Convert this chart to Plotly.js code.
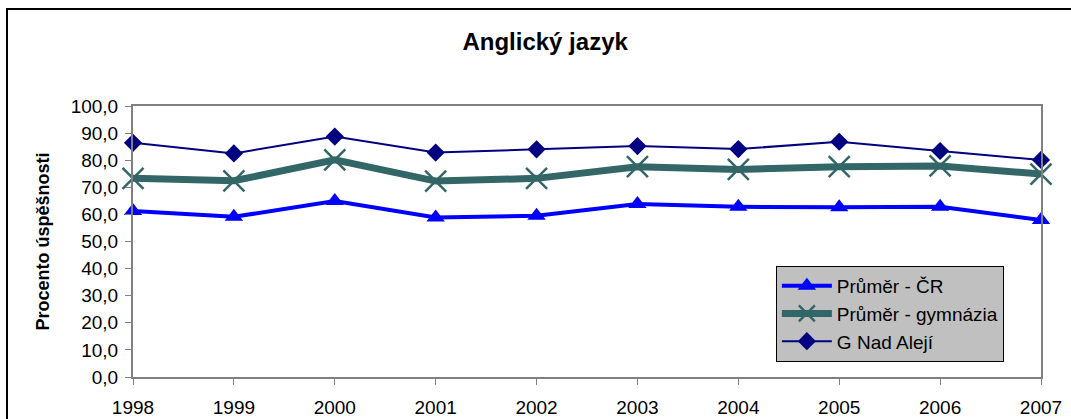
<!DOCTYPE html>
<html><head><meta charset="utf-8">
<script src="https://cdn.plot.ly/plotly-3.0.1.min.js"></script>
<style>
html,body{margin:0;padding:0;background:#fff;overflow:hidden;}
#chart{width:1071px;height:419px;}
#frame{position:absolute;left:6px;top:8px;width:1100px;height:500px;border:2px solid #000;pointer-events:none;}
</style></head>
<body>
<div id="chart"></div>
<div id="frame"></div>
<script>
const years = [1998,1999,2000,2001,2002,2003,2004,2005,2006,2007];
const prumerCR = [61.3,59.1,64.9,58.9,59.5,63.8,62.8,62.6,62.8,57.9];
const prumerGym = [73.3,72.4,80.1,72.3,73.3,77.6,76.6,77.6,77.9,74.9];
const nadAleji = [86.4,82.5,88.7,82.8,84.0,85.2,84.1,86.8,83.4,80.1];
const seriesNames = ["Průměr - ČR","Průměr - gymnázia","G Nad Alejí"];

const font = "Liberation Sans, Arial, sans-serif";
const traces = [
  {x: years, y: prumerCR, name: seriesNames[0], mode: "lines+markers", cliponaxis:false,
   line:{color:"#0000ff", width:4}, marker:{symbol:"triangle-up", size:16, color:"#0000ff"}},
  {x: years, y: prumerGym, name: seriesNames[1], mode: "lines+markers", cliponaxis:false,
   line:{color:"#336666", width:7}, marker:{symbol:"x-thin-open", size:21, color:"#336666", line:{width:2.5, color:"#336666"}}},
  {x: years, y: nadAleji, name: seriesNames[2], mode: "lines+markers", cliponaxis:false,
   line:{color:"#000080", width:2}, marker:{symbol:"diamond", size:14, color:"#000080"}}
];
const layout = {
  width:1071, height:419,
  margin:{l:133, r:30, t:106, b:42},
  paper_bgcolor:"#fff", plot_bgcolor:"#fff",
  separators:", ",
  font:{family:font, size:19, color:"#000"},
  title:{text:"<b>Anglický jazyk</b>", x:0.509, xanchor:"center", y:0.9, yanchor:"middle", font:{family:font, size:24, color:"#000"}},
  xaxis:{range:[1998,2007], tickmode:"array", tickvals:years, ticktext:years.map(String),
         showgrid:false, zeroline:false, showline:true, linecolor:"#808080", linewidth:2, mirror:true,
         ticks:"outside", ticklen:6, tickcolor:"#808080", tickfont:{size:19}, ticklabelstandoff:6},
  yaxis:{range:[0,100], dtick:10, tickformat:".1f", showgrid:false, zeroline:false,
         showline:true, linecolor:"#808080", linewidth:2, mirror:true,
         ticks:"outside", ticklen:6, tickcolor:"#808080", tickfont:{size:19}, ticklabelstandoff:3,
         title:{text:"<b>Procento úspěšnosti</b>", font:{size:18}, standoff:16}},
  legend:{x:0.708, y:0.41, xanchor:"left", yanchor:"top", bgcolor:"#c0c0c0", bordercolor:"#000", borderwidth:1,
          font:{size:19}, itemwidth:50},
  showlegend:true
};
Plotly.newPlot("chart", traces, layout, {displayModeBar:false, staticPlot:true});
</script>
</body></html>
